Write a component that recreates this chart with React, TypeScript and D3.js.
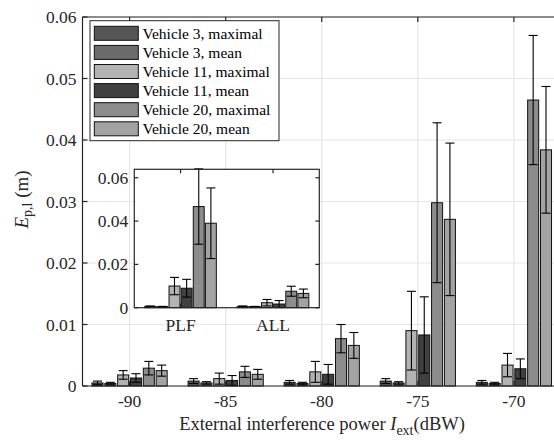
import React from "react";
import * as d3 from "d3";

const xValues = [-90, -85, -80, -75, -70];
const seriesNames = [
  "Vehicle 3, maximal",
  "Vehicle 3, mean",
  "Vehicle 11, maximal",
  "Vehicle 11, mean",
  "Vehicle 20, maximal",
  "Vehicle 20, mean",
];
const seriesColors = ["#555555", "#6b6b6b", "#b3b3b3", "#404040", "#8c8c8c", "#a3a3a3"];

const v3Max = [0.0005, 0.0008, 0.0006, 0.0008, 0.0006];
const v3MaxErr = [0.0003, 0.0004, 0.0003, 0.0004, 0.0003];
const v3Mean = [0.0004, 0.0005, 0.0004, 0.0005, 0.0004];
const v3MeanErr = [0.0002, 0.0002, 0.0002, 0.0002, 0.0002];
const v11Max = [0.0018, 0.0012, 0.0023, 0.009, 0.0034];
const v11MaxErr = [0.0007, 0.0009, 0.0017, 0.0064, 0.0019];
const v11Mean = [0.0013, 0.0009, 0.0019, 0.0083, 0.0028];
const v11MeanErr = [0.0007, 0.0008, 0.0016, 0.0062, 0.0016];
const v20Max = [0.0029, 0.0023, 0.0077, 0.0298, 0.0465];
const v20MaxErr = [0.0011, 0.0009, 0.0023, 0.013, 0.0105];
const v20Mean = [0.0025, 0.0019, 0.0066, 0.0271, 0.0384];
const v20MeanErr = [0.0009, 0.0008, 0.0021, 0.0124, 0.0103];

const yTicks = [0, 0.01, 0.02, 0.03, 0.04, 0.05, 0.06];

const insetCats = ["PLF", "ALL"];
const insetV3Max = [0.0006, 0.0006];
const insetV3MaxErr = [0.0002, 0.0002];
const insetV3Mean = [0.0005, 0.0005];
const insetV3MeanErr = [0.0001, 0.0001];
const insetV11Max = [0.01, 0.0023];
const insetV11MaxErr = [0.004, 0.0015];
const insetV11Mean = [0.009, 0.0017];
const insetV11MeanErr = [0.0041, 0.0016];
const insetV20Max = [0.0467, 0.0076];
const insetV20MaxErr = [0.0174, 0.0023];
const insetV20Mean = [0.039, 0.0066];
const insetV20MeanErr = [0.0163, 0.002];
const insetYTicks = [0, 0.02, 0.04, 0.06];

const mainValues = [v3Max, v3Mean, v11Max, v11Mean, v20Max, v20Mean];
const mainErrs = [v3MaxErr, v3MeanErr, v11MaxErr, v11MeanErr, v20MaxErr, v20MeanErr];
const insetValues = [insetV3Max, insetV3Mean, insetV11Max, insetV11Mean, insetV20Max, insetV20Mean];
const insetErrs = [insetV3MaxErr, insetV3MeanErr, insetV11MaxErr, insetV11MeanErr, insetV20MaxErr, insetV20MeanErr];

const FONT = "Liberation Serif, DejaVu Serif, serif";
const AX = "#262626";

export default function App() {
  const W = 554, H = 443;
  const left = 82.5, top = 17, bottom = 386, right = 561;
  const x = d3.scaleLinear().domain([-92.45, -67.55]).range([left, right]);
  const y = d3.scaleLinear().domain([0, 0.06]).range([bottom, top]);
  const sub = d3.scaleBand<string>().domain(seriesNames).range([-38.5, 38.5]).paddingInner(0.14).paddingOuter(0.07);
  const bw = sub.bandwidth();
  const cap = 4.5;

  const iL = 134.3, iR = 319.3, iT = 169.3, iB = 307.7;
  const ix = d3.scaleLinear().domain([0.5, 2.5]).range([iL, iR]);
  const iy = d3.scaleLinear().domain([0, 0.0639]).range([iB, iT]);
  const isub = d3.scaleBand<string>().domain(seriesNames).range([-36.4, 36.4]).paddingInner(0.1).paddingOuter(0.05);
  const ibw = isub.bandwidth();

  const renderBars = (
    cats: number[],
    xs: (i: number) => number,
    subScale: d3.ScaleBand<string>,
    bwid: number,
    ys: d3.ScaleLinear<number, number>,
    vals: number[][],
    errs: number[][],
    keyp: string
  ) => {
    const bars: React.ReactNode[] = [];
    const ebs: React.ReactNode[] = [];
    vals.forEach((arr, s) => {
      arr.forEach((v, i) => {
        const cx = xs(cats[i]) + (subScale(seriesNames[s]) as number);
        bars.push(
          <rect key={`${keyp}b${s}-${i}`} x={cx} y={ys(v)} width={bwid} height={ys(0) - ys(v)}
            fill={seriesColors[s]} stroke="#111" strokeWidth={1} />
        );
        const mx = cx + bwid / 2;
        const e = errs[s][i];
        const lo = ys(Math.max(0, v - e));
        const hi = ys(v + e);
        ebs.push(
          <g key={`${keyp}e${s}-${i}`} stroke="#000" strokeWidth={1.1}>
            <line x1={mx} x2={mx} y1={lo} y2={hi} />
            <line x1={mx - cap} x2={mx + cap} y1={hi} y2={hi} />
            <line x1={mx - cap} x2={mx + cap} y1={lo} y2={lo} />
          </g>
        );
      });
    });
    return [...bars, ...ebs];
  };

  return (
    <svg width={W} height={H} style={{ position: "absolute", left: 0, top: 0, background: "#fff", fontFamily: FONT }}>
      <rect x={0} y={0} width={W} height={H} fill="#fff" />
      <g stroke="#e6e6e6" strokeWidth={1.2}>
        {yTicks.map((t) => (
          <line key={`gy${t}`} x1={left} x2={right} y1={y(t)} y2={y(t)} />
        ))}
        {xValues.map((t) => (
          <line key={`gx${t}`} x1={x(t)} x2={x(t)} y1={top} y2={bottom} />
        ))}
      </g>
      {renderBars(xValues, (c) => x(c), sub, bw, y, mainValues, mainErrs, "m")}
      <g stroke={AX} strokeWidth={1.2} fill="none">
        <line x1={left} x2={right} y1={bottom} y2={bottom} />
        <line x1={left} x2={right} y1={top} y2={top} />
        <line x1={left} x2={left} y1={top} y2={bottom} />
        {yTicks.map((t) => (
          <line key={`ty${t}`} x1={left} x2={left + 5} y1={y(t)} y2={y(t)} />
        ))}
        {xValues.map((t) => (
          <g key={`tx${t}`}>
            <line x1={x(t)} x2={x(t)} y1={bottom} y2={bottom - 5} />
            <line x1={x(t)} x2={x(t)} y1={top} y2={top + 5} />
          </g>
        ))}
      </g>
      <g fill={AX} style={{ fontSize: "17.5px", fontFamily: FONT }}>
        {yTicks.map((t) => (
          <text key={`ly${t}`} x={left - 6} y={y(t) + 6} textAnchor="end">{d3.format("")(t)}</text>
        ))}
        {xValues.map((t) => (
          <text key={`lx${t}`} x={x(t)} y={407} textAnchor="middle">{t}</text>
        ))}
      </g>
      <text x={322} y={430} textAnchor="middle" fill={AX} style={{ fontSize: "18.5px", fontFamily: FONT }}>
        External interference power <tspan fontStyle="italic">I</tspan>
        <tspan dy={5} style={{ fontSize: "14px" }}>ext</tspan>
        <tspan dy={-5}>(dBW)</tspan>
      </text>
      <text transform={`translate(28,${(top + bottom) / 2 - 2}) rotate(-90)`} textAnchor="middle" fill={AX} style={{ fontSize: "19px", fontFamily: FONT }}>
        <tspan fontStyle="italic">E</tspan>
        <tspan dy={4} style={{ fontSize: "14px" }}>p,l</tspan>
        <tspan dy={-4}> (m)</tspan>
      </text>

      <g>
        <rect x={90} y={20.7} width={189} height={120} fill="#fff" stroke={AX} strokeWidth={1} />
        {seriesNames.map((n, i) => (
          <g key={`lg${i}`} transform={`translate(0,${33.3 + i * 19.1})`}>
            <rect x={94.3} y={-7} width={44} height={14} fill={seriesColors[i]} stroke="#111" strokeWidth={1} />
            <text x={142.5} y={5.3} fill="#000" style={{ fontSize: "15.5px", fontFamily: FONT }}>{n}</text>
          </g>
        ))}
      </g>

      <rect x={iL} y={iT} width={iR - iL} height={iB - iT} fill="#fff" />
      {renderBars([1, 2], (c) => ix(c), isub, ibw, iy, insetValues, insetErrs, "i")}
      <g stroke={AX} strokeWidth={1.2} fill="none">
        <rect x={iL} y={iT} width={iR - iL} height={iB - iT} />
        {insetYTicks.map((t) => (
          <g key={`ity${t}`}>
            <line x1={iL} x2={iL + 4} y1={iy(t)} y2={iy(t)} />
            <line x1={iR} x2={iR - 4} y1={iy(t)} y2={iy(t)} />
          </g>
        ))}
        {[1, 2].map((c) => (
          <g key={`itx${c}`}>
            <line x1={ix(c)} x2={ix(c)} y1={iB} y2={iB - 4} />
            <line x1={ix(c)} x2={ix(c)} y1={iT} y2={iT + 4} />
          </g>
        ))}
      </g>
      <g fill={AX} style={{ fontSize: "17.5px", fontFamily: FONT }}>
        {insetYTicks.map((t) => (
          <text key={`ily${t}`} x={iL - 6} y={iy(t) + 6} textAnchor="end">{d3.format("")(t)}</text>
        ))}
        {insetCats.map((c, i) => (
          <text key={`ilx${c}`} x={ix(i + 1)} y={331} textAnchor="middle">{c}</text>
        ))}
      </g>
    </svg>
  );
}
